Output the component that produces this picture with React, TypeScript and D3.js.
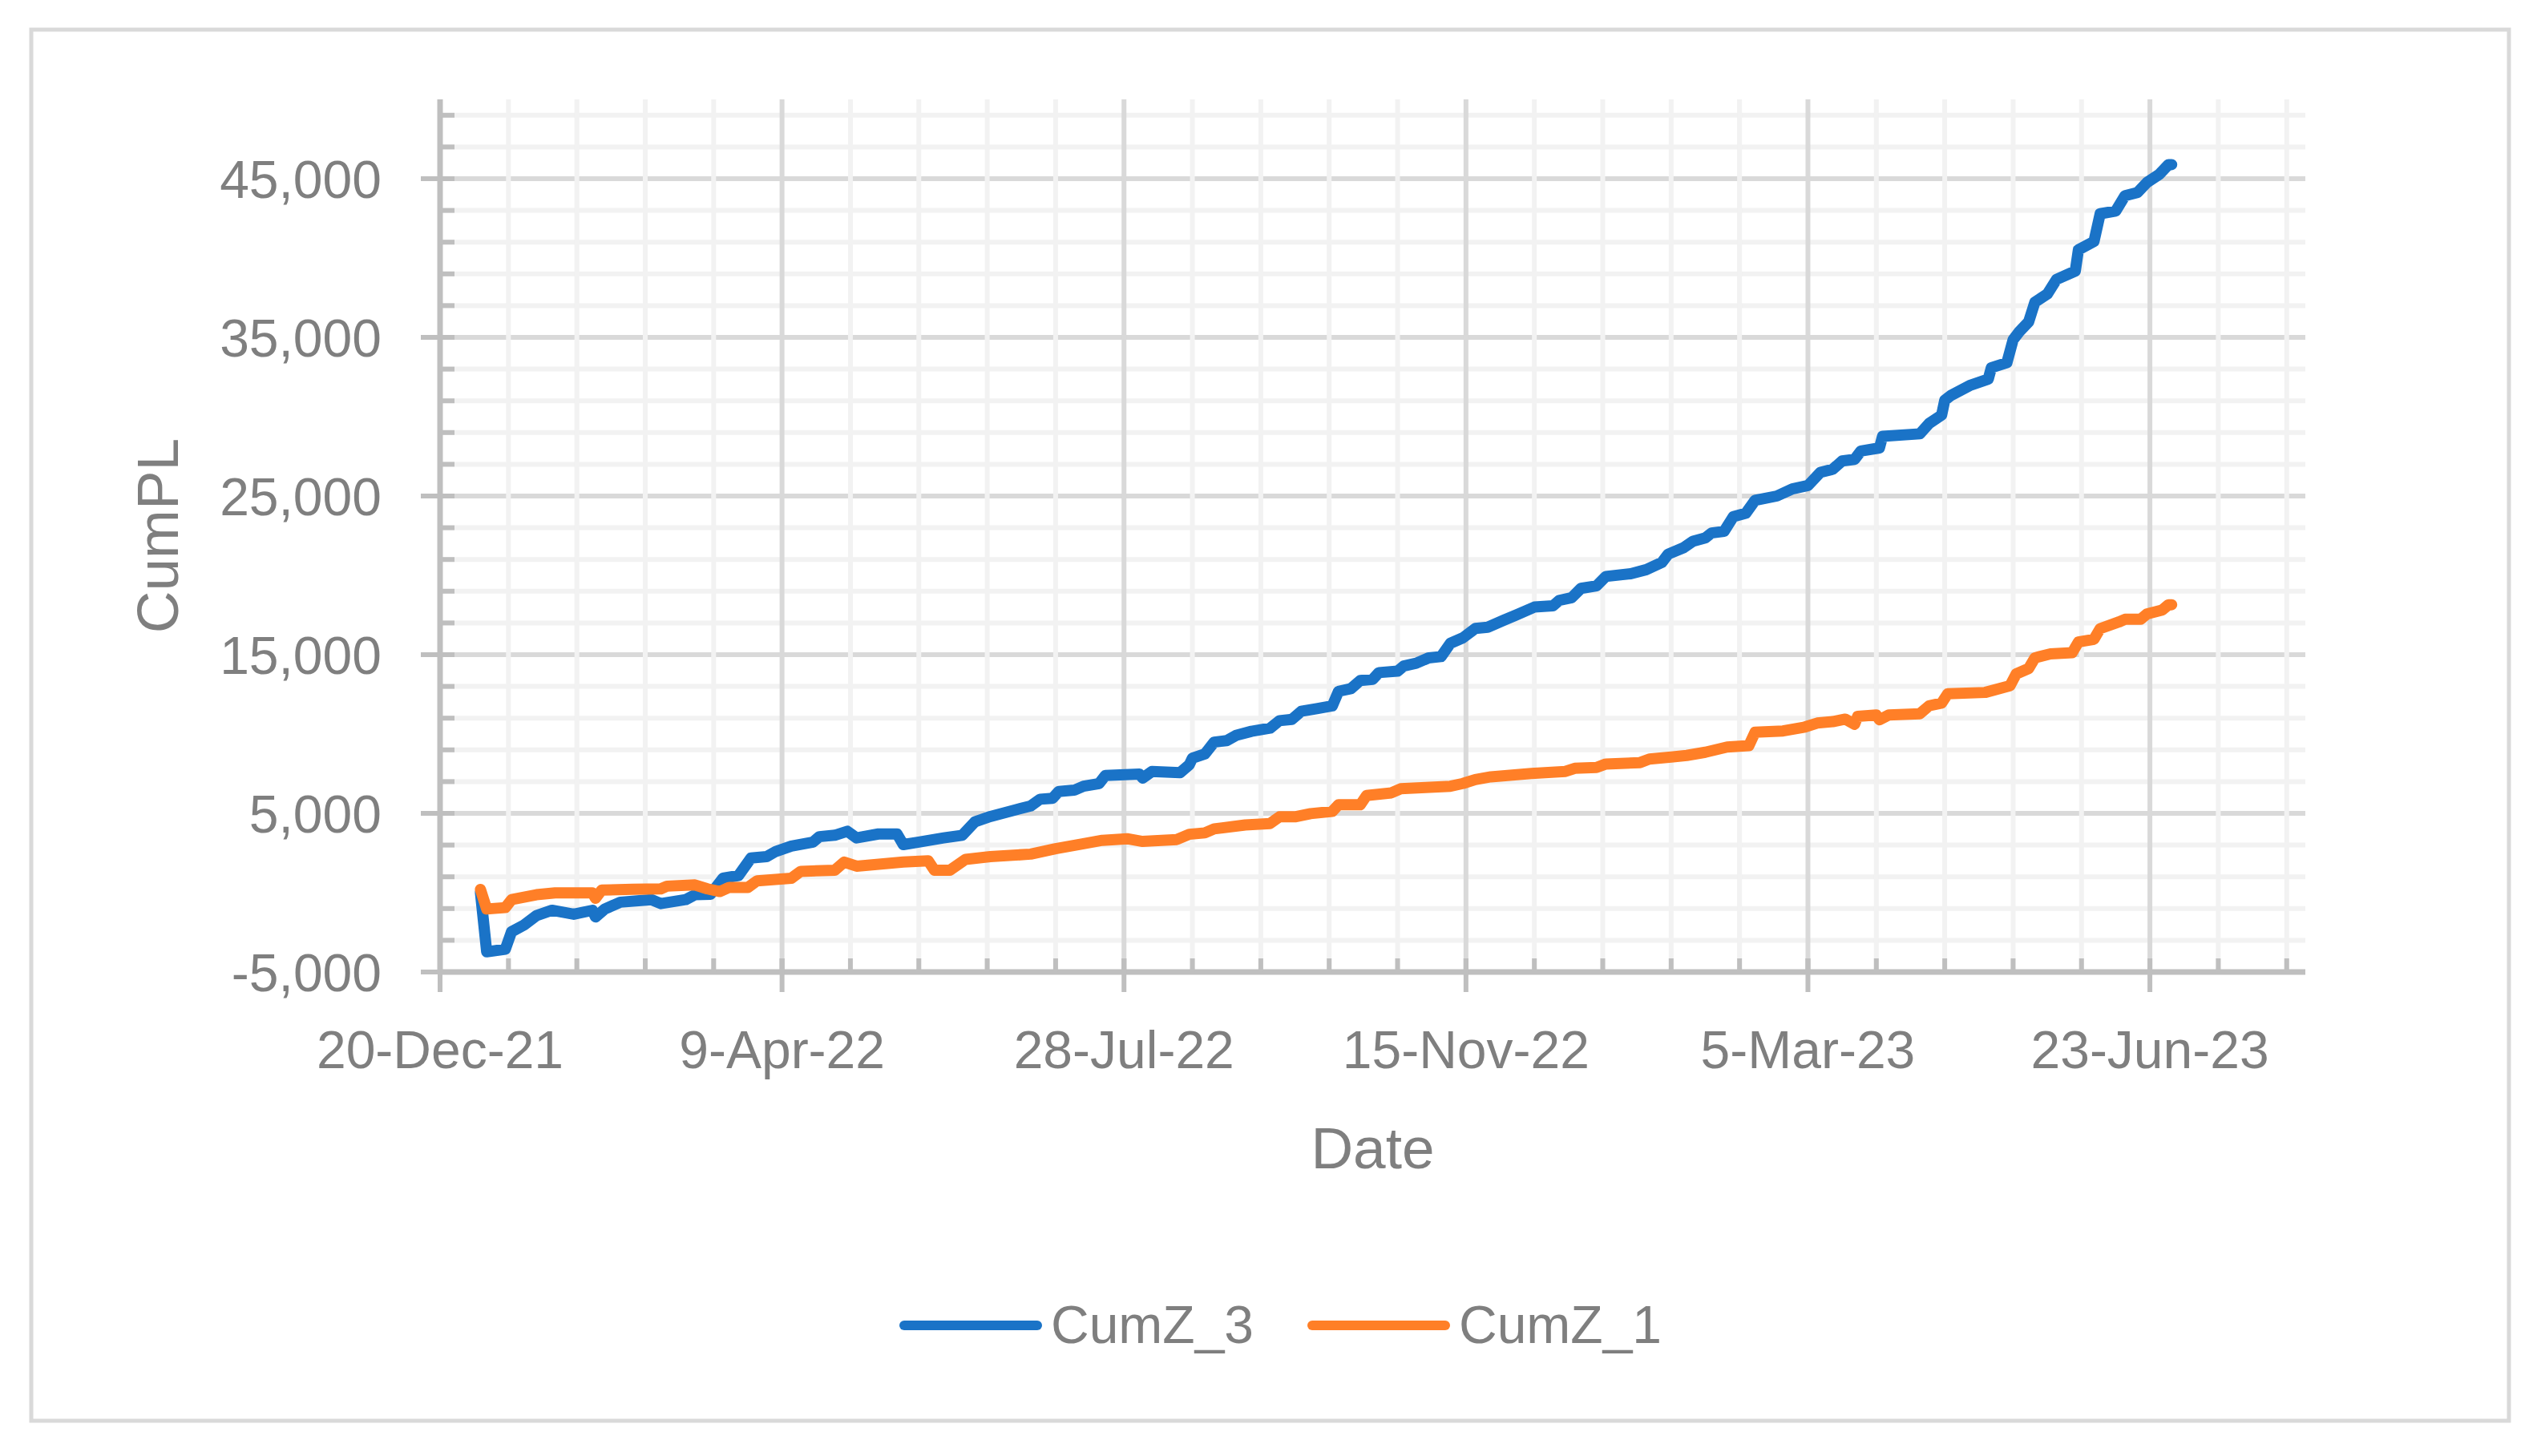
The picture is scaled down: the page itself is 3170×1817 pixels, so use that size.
import React from "react";
import * as d3 from "d3";

// dates are Excel serials (days since 30-Dec-1899), values are cumulative P&L
const cumZ3Dates = [
  44563, 44565, 44571, 44573, 44577, 44581, 44586, 44593, 44599, 44600, 44603, 44608, 44618, 44621,
  44629, 44632, 44637, 44641, 44646, 44650, 44655, 44658, 44663, 44670, 44672, 44677, 44681, 44684,
  44691, 44697, 44699, 44704, 44712, 44718, 44722, 44727, 44735, 44740, 44743, 44747, 44749, 44754,
  44757, 44762, 44764, 44775, 44776, 44779, 44788, 44791, 44792, 44796, 44799, 44803, 44806, 44811,
  44817, 44820, 44824, 44827, 44832, 44837, 44839, 44843, 44846, 44850, 44852, 44858, 44860, 44864,
  44868, 44872, 44875, 44879, 44883, 44887, 44892, 44896, 44902, 44908, 44910, 44914, 44917, 44922,
  44925, 44933, 44938, 44943, 44945, 44950, 44953, 44957, 44959, 44963, 44966, 44970, 44973, 44980,
  44985, 44990, 44994, 44998, 45001, 45005, 45007, 45013, 45014, 45026, 45029, 45033, 45034, 45036,
  45042, 45048, 45049, 45054, 45056, 45058, 45061, 45063, 45067, 45070, 45076, 45077, 45082, 45084,
  45089, 45092, 45096, 45099, 45103, 45106, 45107,
];
const cumZ3Values = [
  0, -3730, -3560, -2460, -2040, -1450, -1110, -1360, -1110, -1530, -1030, -600, -440, -690,
  -440, -130, -100, 910, 1080, 2180, 2270, 2600, 2940, 3190, 3530, 3620, 3870, 3450,
  3700, 3700, 3030, 3190, 3450, 3620, 4460, 4800, 5220, 5470, 5890, 5950, 6380, 6460,
  6710, 6880, 7390, 7470, 7220, 7640, 7560, 8060, 8480, 8740, 9490, 9580, 9910, 10170,
  10370, 10840, 10920, 11430, 11600, 11770, 12690, 12860, 13370, 13450, 13870, 13960, 14290, 14460,
  14800, 14880, 15720, 16060, 16650, 16730, 17160, 17490, 18000, 18080, 18420, 18590, 19180, 19340,
  19930, 20100, 20360, 20810, 21330, 21740, 22150, 22360, 22670, 22770, 23700, 23910, 24730, 25000,
  25450, 25660, 26490, 26690, 27210, 27310, 27830, 28030, 28760, 28920, 29580, 30100, 31030, 31340,
  31960, 32370, 33090, 33400, 34850, 35360, 35980, 37220, 37730, 38660, 39180, 40520, 41040, 42790,
  42960, 43930, 44130, 44750, 45270, 45890, 45890,
];

const cumZ1Dates = [
  44563, 44565, 44571, 44573, 44581, 44587, 44599, 44600, 44602, 44612, 44621, 44623, 44632, 44636,
  44640, 44643, 44649, 44652, 44663, 44666, 44677, 44680, 44684, 44699, 44707, 44709, 44714, 44719,
  44727, 44740, 44748, 44757, 44763, 44771, 44776, 44787, 44791, 44796, 44799, 44809, 44817, 44820,
  44825, 44830, 44837, 44839, 44846, 44848, 44856, 44859, 44867, 44875, 44879, 44883, 44888, 44901,
  44912, 44915, 44922, 44925, 44936, 44939, 44946, 44951, 44957, 44964, 44971, 44973, 44982, 44989,
  44993, 44998, 45002, 45005, 45006, 45012, 45013, 45016, 45026, 45029, 45033, 45035, 45047, 45055,
  45057, 45061, 45063, 45068, 45075, 45077, 45082, 45084, 45090, 45092, 45097, 45099, 45104, 45106,
  45107,
];
const cumZ1Values = [
  200, -1030, -940, -440, -130, -10, -10, -350, 160, 210, 240, 410, 490, 240,
  70, 330, 330, 750, 910, 1340, 1420, 1930, 1670, 1930, 2010, 1420, 1420, 2100,
  2270, 2430, 2770, 3090, 3300, 3400, 3230, 3350, 3680, 3770, 4020, 4270, 4360, 4780,
  4780, 4980, 5120, 5540, 5540, 6120, 6290, 6550, 6630, 6710, 6880, 7130, 7300, 7510,
  7640, 7840, 7890, 8110, 8200, 8420, 8550, 8650, 8850, 9180, 9270, 10110, 10190, 10440,
  10690, 10780, 10940, 10610, 11110, 11200, 10900, 11200, 11280, 11780, 11950, 12540, 12620, 13040,
  13790, 14130, 14800, 15050, 15130, 15800, 15970, 16640, 17060, 17230, 17230, 17560, 17820, 18150,
  18150,
];

const seriesNames = ["CumZ_3", "CumZ_1"];
const seriesColors = ["#1a73c7", "#ff7f27"];

// axis bounds / units as set in the workbook
const xBounds = [44550, 45150];
const xMajorUnit = 110;
const xMinorUnit = 22;
const yBounds = [-5000, 50000];
const yMajorUnit = 10000;
const yMinorUnit = 2000;

const xTitle = "Date";
const yTitle = "CumPL";

const W = 3170;
const H = 1817;
const plot = { left: 549, right: 2876, top: 124, bottom: 1213 };
const font = "'Liberation Sans', Arial, sans-serif";
const textColor = "#7f7f7f";
const axisColor = "#bfbfbf";

const excelToDate = (s: number) => new Date(Date.UTC(1899, 11, 30) + s * 864e5);

// plain hyphen for negatives, like Excel
const numLocale = d3.formatLocale({
  decimal: ".",
  thousands: ",",
  grouping: [3],
  currency: ["$", ""],
  minus: "-",
});

const App = () => {
  const x = d3
    .scaleUtc()
    .domain(xBounds.map(excelToDate))
    .range([plot.left, plot.right]);
  const y = d3.scaleLinear().domain(yBounds).range([plot.bottom, plot.top]);

  const xMinor = d3.range(xBounds[0], xBounds[1] + 0.5, xMinorUnit);
  const xMajor = d3.range(xBounds[0], xBounds[1] + 0.5, xMajorUnit);
  const yMinor = d3.range(yBounds[0], yBounds[1] + 0.5, yMinorUnit);
  const yMajor = d3.range(yBounds[0], yBounds[1] + 0.5, yMajorUnit);

  const fmtDate = d3.utcFormat("%-d-%b-%y");
  const fmtNum = numLocale.format(",");

  const series = [
    { dates: cumZ3Dates, values: cumZ3Values },
    { dates: cumZ1Dates, values: cumZ1Values },
  ].map((s, i) => ({
    name: seriesNames[i],
    color: seriesColors[i],
    points: d3.range(Math.min(s.dates.length, s.values.length)).map(
      (k) => [excelToDate(s.dates[k]), s.values[k]] as [Date, number]
    ),
  }));

  const line = d3
    .line<[Date, number]>()
    .x((d) => x(d[0]))
    .y((d) => y(d[1]));

  const gw = 6;
  const legendY = 1654;
  const legendX = [1128, 1637];

  return (
    <div style={{ position: "absolute", left: 0, top: 0 }}>
      <svg width={W} height={H} style={{ display: "block", background: "#fff" }} fontFamily={font}>
        <rect x={39} y={37} width={3091} height={1736} fill="#fff" stroke="#d9d9d9" strokeWidth={5} />

        {/* horizontal gridlines */}
        {yMinor
          .filter((v) => !yMajor.includes(v))
          .map((v) => (
            <line key={"hy" + v} x1={plot.left} x2={plot.right} y1={y(v)} y2={y(v)} stroke="#f2f2f2" strokeWidth={gw} />
          ))}
        {yMajor.slice(1).map((v) => (
          <line key={"hY" + v} x1={plot.left} x2={plot.right} y1={y(v)} y2={y(v)} stroke="#d9d9d9" strokeWidth={gw} />
        ))}

        {/* vertical gridlines */}
        {xMinor
          .filter((v) => !xMajor.includes(v))
          .map((v) => (
            <line key={"vx" + v} x1={x(excelToDate(v))} x2={x(excelToDate(v))} y1={plot.top} y2={plot.bottom} stroke="#f2f2f2" strokeWidth={gw} />
          ))}
        {xMajor.slice(1).map((v) => (
          <line key={"vX" + v} x1={x(excelToDate(v))} x2={x(excelToDate(v))} y1={plot.top} y2={plot.bottom} stroke="#d9d9d9" strokeWidth={gw} />
        ))}

        {/* axes + ticks */}
        <line x1={plot.left} x2={plot.left} y1={plot.top} y2={plot.bottom} stroke={axisColor} strokeWidth={7} />
        <line x1={plot.left} x2={plot.right} y1={plot.bottom} y2={plot.bottom} stroke={axisColor} strokeWidth={7} />
        {yMinor.map((v) => (
          <line key={"ty" + v} x1={plot.left} x2={plot.left + 18} y1={y(v)} y2={y(v)} stroke={axisColor} strokeWidth={gw} />
        ))}
        {yMajor.map((v) => (
          <line key={"tY" + v} x1={plot.left - 24} x2={plot.left + 18} y1={y(v)} y2={y(v)} stroke={axisColor} strokeWidth={gw} />
        ))}
        {xMinor.map((v) => (
          <line key={"tx" + v} x1={x(excelToDate(v))} x2={x(excelToDate(v))} y1={plot.bottom - 17} y2={plot.bottom} stroke={axisColor} strokeWidth={gw} />
        ))}
        {xMajor.map((v) => (
          <line key={"tX" + v} x1={x(excelToDate(v))} x2={x(excelToDate(v))} y1={plot.bottom - 17} y2={plot.bottom + 25} stroke={axisColor} strokeWidth={gw} />
        ))}

        {/* tick labels */}
        {yMajor.map((v) => (
          <text key={"ly" + v} x={476} y={y(v)} dy="0.36em" textAnchor="end" fontSize={66} fill={textColor}>
            {fmtNum(v)}
          </text>
        ))}
        {xMajor.map((v) => (
          <text key={"lx" + v} x={x(excelToDate(v))} y={1333} textAnchor="middle" fontSize={66} fill={textColor}>
            {fmtDate(excelToDate(v))}
          </text>
        ))}

        {/* axis titles */}
        <text x={(plot.left + plot.right) / 2} y={1458} textAnchor="middle" fontSize={73} fill={textColor}>
          {xTitle}
        </text>
        <text
          transform={`translate(222,${(plot.top + plot.bottom) / 2}) rotate(-90)`}
          textAnchor="middle"
          fontSize={73}
          fill={textColor}
        >
          {yTitle}
        </text>

        {/* series */}
        {series.map((s) => (
          <path
            key={s.name}
            d={line(s.points) || ""}
            fill="none"
            stroke={s.color}
            strokeWidth={14}
            strokeLinejoin="round"
            strokeLinecap="round"
          />
        ))}

        {/* legend */}
        {series.map((s, i) => (
          <g key={"lg" + s.name}>
            <line x1={legendX[i]} x2={legendX[i] + 166} y1={legendY} y2={legendY} stroke={s.color} strokeWidth={12} strokeLinecap="round" />
            <text x={legendX[i] + 183} y={1676} fontSize={66} fill={textColor}>
              {s.name}
            </text>
          </g>
        ))}
      </svg>
    </div>
  );
};

export default App;
